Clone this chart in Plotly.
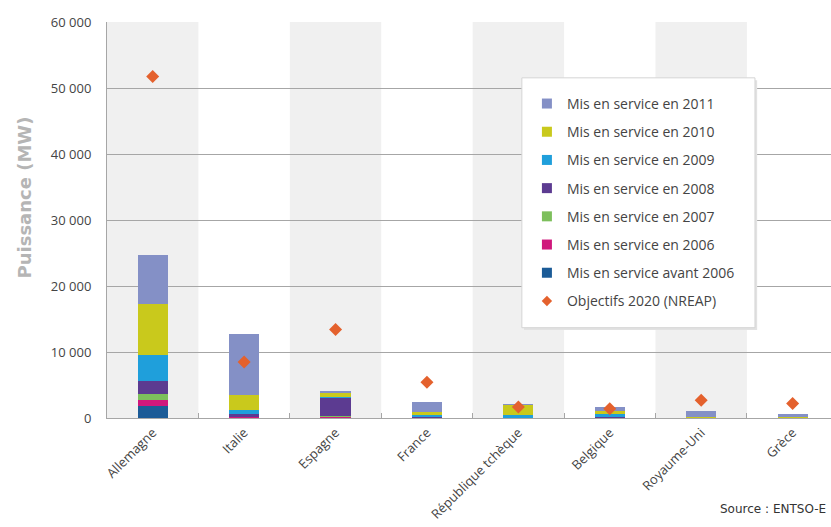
import plotly.graph_objects as go

# Installed PV capacity (MW) by commissioning year, and 2020 NREAP targets
countries = ["Allemagne", "Italie", "Espagne", "France", "République tchèque",
             "Belgique", "Royaume-Uni", "Grèce"]
before_2006 = [1800, 150, 150, 40, 0, 20, 10, 0]
in_2006 = [1000, 50, 50, 10, 0, 0, 5, 0]
in_2007 = [900, 100, 100, 50, 5, 20, 5, 10]
in_2008 = [1900, 300, 2850, 100, 40, 60, 10, 10]
in_2009 = [4000, 600, 30, 250, 450, 450, 20, 40]
in_2010 = [7600, 2350, 700, 450, 1550, 450, 50, 150]
in_2011 = [7500, 9150, 100, 1550, 50, 700, 900, 400]
targets_2020 = [51753, 8500, 13400, 5400, 1650, 1400, 2680, 2200]

series = [
    ("Mis en service avant 2006", before_2006, "#1b5b97"),
    ("Mis en service en 2006", in_2006, "#d0177c"),
    ("Mis en service en 2007", in_2007, "#7dbf5c"),
    ("Mis en service en 2008", in_2008, "#5c3b91"),
    ("Mis en service en 2009", in_2009, "#1f9fdb"),
    ("Mis en service en 2010", in_2010, "#c9c91c"),
    ("Mis en service en 2011", in_2011, "#8490c6"),
]
target_name = "Objectifs 2020 (NREAP)"
target_color = "#e4612d"

FONT = "Open Sans, Liberation Sans, sans-serif"
WIDE = "DejaVu Sans, sans-serif"

fig = go.Figure()

# stacked bars (first series at the bottom)
for name, vals, color in series:
    fig.add_trace(go.Bar(x=countries, y=vals, name=name, marker_color=color,
                         marker_line_width=0, showlegend=False))

fig.add_trace(go.Scatter(x=countries, y=targets_2020, mode="markers", name=target_name,
                         marker=dict(symbol="diamond", size=10, color=target_color),
                         showlegend=False))

# legend entries: newest year first, target last
for name, _, color in reversed(series):
    fig.add_trace(go.Scatter(x=[None], y=[None], mode="markers", name=name,
                             legendgroup=name,
                             marker=dict(symbol="square", size=10, color=color)))
fig.add_trace(go.Scatter(x=[None], y=[None], mode="markers", name=target_name,
                         legendgroup=target_name,
                         marker=dict(symbol="diamond", size=8, color=target_color)))

# alternating grey category bands
shapes = []
for i in range(0, len(countries), 2):
    shapes.append(dict(type="rect", xref="x", yref="paper", x0=i - 0.5, x1=i + 0.5,
                       y0=0, y1=1, fillcolor="#f0f0f0", line_width=0, layer="below"))

# legend frame with a soft shadow
shapes.append(dict(type="rect", xref="paper", yref="paper", x0=0.576, x1=0.898,
                   y0=0.222, y1=0.853, fillcolor="#e2e2e2", line_width=0, layer="above"))
shapes.append(dict(type="rect", xref="paper", yref="paper", x0=0.573, x1=0.895,
                   y0=0.228, y1=0.859, fillcolor="white",
                   line=dict(color="#d4d4d4", width=1), layer="above"))

fig.update_layout(
    width=831, height=527,
    margin=dict(l=107, r=0, t=22, b=108.5),
    paper_bgcolor="white", plot_bgcolor="white",
    barmode="stack", bargap=0.67,
    separators=", ",
    font=dict(family=FONT, size=13, color="#444444"),
    shapes=shapes,
    showlegend=True,
    legend=dict(x=0.580, y=0.8335, xanchor="left", yanchor="top",
                bgcolor="rgba(0,0,0,0)", borderwidth=0, traceorder="grouped",
                tracegroupgap=7, font=dict(family=FONT, size=14, color="#444444")),
    xaxis=dict(type="category", range=[-0.5, 7.42], tickangle=-45, automargin=False,
               showline=True, linecolor="#a6a6a6", linewidth=1,
               ticks="inside", tickson="boundaries", ticklen=5, tickcolor="#a6a6a6",
               ticklabelstandoff=1,
               showgrid=False, tickfont=dict(family=FONT, size=13, color="#444444")),
    yaxis=dict(range=[0, 60000], dtick=10000, tickformat=",d", automargin=False,
               showgrid=True, gridcolor="#a6a6a6", gridwidth=1,
               showline=True, linecolor="#a6a6a6", linewidth=1, mirror=False,
               zeroline=False, ticks="", ticklabelstandoff=12,
               tickfont=dict(family=FONT, size=13, color="#444444")),
    annotations=[
        dict(text="<b>Puissance (MW)</b>", textangle=-90, xref="paper", yref="paper",
             x=-0.131, y=0.556, showarrow=False,
             font=dict(family=WIDE, size=18, color="#b5b5b5")),
        dict(text="Source : ENTSO-E", xref="paper", yref="paper", x=0.996, y=-0.231,
             xanchor="right", yanchor="middle", showarrow=False,
             font=dict(family=WIDE, size=12, color="#333333")),
    ],
)

fig.write_html("out.html")
